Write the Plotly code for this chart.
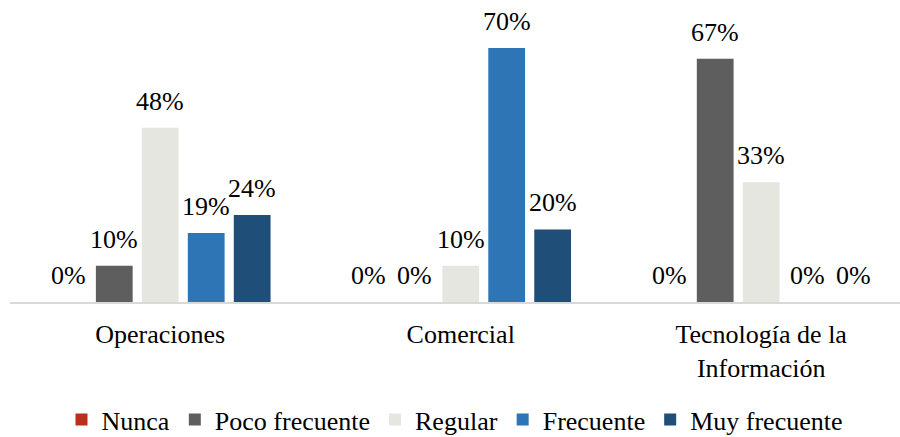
import plotly.graph_objects as go

categories = ["Operaciones", "Comercial", "Tecnología de la<br>Información"]
series_names = ["Nunca", "Poco frecuente", "Regular", "Frecuente", "Muy frecuente"]
nunca = [0, 0, 0]
poco_frecuente = [10, 0, 67]
regular = [48, 10, 33]
frecuente = [19, 70, 0]
muy_frecuente = [24, 20, 0]
colors = ["#B8301C", "#5E5E5E", "#E6E6E1", "#2E75B6", "#1F4E79"]

series_values = [nunca, poco_frecuente, regular, frecuente, muy_frecuente]

FONT = '"Liberation Serif", "Times New Roman", serif'
FSIZE = 26
BARGAP = 0.235
n_series = len(series_values)
slot = (1 - BARGAP) / n_series

fig = go.Figure()
for name, vals, col in zip(series_names, series_values, colors):
    fig.add_trace(go.Bar(
        name=name, x=categories, y=vals,
        marker=dict(color=col, line=dict(width=0)),
    ))

# value labels above each bar, placed at the bar's slot within its group
annotations = []
for i, vals in enumerate(series_values):
    for c, v in enumerate(vals):
        annotations.append(dict(
            x=c + (i - (n_series - 1) / 2) * slot, xref="x",
            y=v, yref="y", yanchor="bottom", yshift=10,
            text=f"{v}%", showarrow=False,
            font=dict(family=FONT, size=FSIZE, color="#000000"),
        ))

fig.update_layout(
    width=900, height=437,
    margin=dict(l=10, r=0, t=20, b=135),
    barmode="group", bargap=BARGAP, bargroupgap=0.2,
    plot_bgcolor="white", paper_bgcolor="white",
    font=dict(family=FONT, size=FSIZE, color="#000000"),
    annotations=annotations,
    showlegend=True,
    legend=dict(
        orientation="h", xref="paper", x=0.5, xanchor="center",
        yref="container", y=0.04, yanchor="middle",
        font=dict(family=FONT, size=FSIZE, color="#000000"),
        itemwidth=30, traceorder="normal",
    ),
    xaxis=dict(
        range=[-0.5, 2.462], showline=True, linecolor="#D9D9D9", linewidth=2,
        ticks="", showgrid=False, ticklabelstandoff=8,
        tickfont=dict(family=FONT, size=FSIZE, color="#000000"),
    ),
    yaxis=dict(range=[0, 77.7], visible=False, showgrid=False, zeroline=False),
)

fig.write_html("out.html")
